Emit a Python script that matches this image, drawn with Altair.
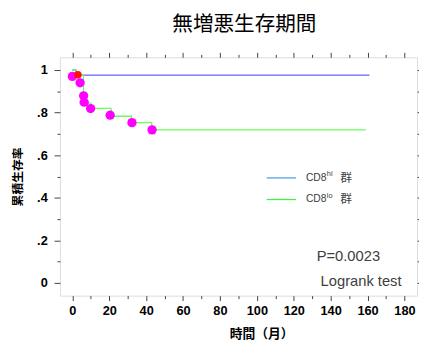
import altair as alt
import pandas as pd

# --- data ---
hi_time = [0, 2, 161]
hi_surv = [1.0, 0.976, 0.976]
lo_time = [0, 2, 6, 10, 21, 32, 43, 159]
lo_surv = [1.0, 0.976, 0.845, 0.82, 0.783, 0.753, 0.719, 0.719]
lo_cens_time = [0, 4.2, 6.1, 6.4, 9.9, 20.5, 32.3, 43.2]
lo_cens_surv = [0.97, 0.94, 0.879, 0.849, 0.819, 0.788, 0.753, 0.719]
hi_cens_time = [3]
hi_cens_surv = [0.978]
x_ticks = list(range(0, 181, 10))
y_ticks = [round(i * 0.1, 1) for i in range(11)]
groups = ["hi", "lo"]

lines_df = pd.DataFrame({
    "t": hi_time + lo_time,
    "s": hi_surv + lo_surv,
    "g": ["hi"] * len(hi_time) + ["lo"] * len(lo_time),
    "o": list(range(len(hi_time))) + list(range(len(lo_time))),
})
cens_df = pd.DataFrame({"t": lo_cens_time, "s": lo_cens_surv})
hicens_df = pd.DataFrame({"t": hi_cens_time, "s": hi_cens_surv})

xs = alt.Scale(domain=[-6.7, 186.8], nice=False, zero=False)
ys = alt.Scale(domain=[-0.06, 1.06], nice=False, zero=False)

LABEL_FONT = "Liberation Sans"
CJK = "Noto Sans CJK JP"
TICKC = "#404040"

x_major = "datum.value % 20 === 0"
y_major = "round(datum.value * 10) % 2 === 0"
y_label = ("round(datum.value * 10) % 2 === 0 ? (datum.value === 0 ? '0' : "
           "(datum.value === 1 ? '1' : '.' + round(datum.value * 10))) : ''")

x_bottom = alt.Axis(
    values=x_ticks, orient="bottom", domain=False, grid=False,
    tickSize={"condition": {"test": x_major, "value": 5}, "value": 3},
    tickColor=TICKC, labelExpr="datum.value % 20 === 0 ? datum.label : ''",
    labelFont=LABEL_FONT, labelFontWeight="bold", labelFontSize=13, labelColor="black",
    labelPadding=4, labelFlush=False, labelOverlap=False,
    title="時間（月）", titleFont=CJK, titleFontWeight="bold", titleFontSize=13,
    titleColor="black", titleX=205, titleY=39, titleBaseline="middle", titleAlign="center",
)
y_left = alt.Axis(
    values=y_ticks, orient="left", domain=False, grid=False,
    tickSize={"condition": {"test": y_major, "value": 6}, "value": 3},
    tickColor=TICKC, labelExpr=y_label,
    labelFont=LABEL_FONT, labelFontWeight="bold", labelFontSize=13, labelColor="black",
    labelPadding=7, labelFlush=False, labelOverlap=False,
    title="累積生存率", titleFont=CJK, titleFontWeight="bold", titleFontSize=12,
    titleColor="black", titleX=-43, titleY=121.5, titleAngle=270,
    titleAlign="center", titleBaseline="middle",
)
x_top = alt.Axis(
    values=x_ticks, orient="top", domain=False, grid=False, labels=False, title=None,
    tickSize={"condition": {"test": x_major, "value": 5}, "value": 3}, tickColor=TICKC,
)
y_right = alt.Axis(
    values=y_ticks, orient="right", domain=False, grid=False, labels=False, title=None,
    tickSize={"condition": {"test": y_major, "value": 6}, "value": 3}, tickColor=TICKC,
)

lines = alt.Chart(lines_df).mark_line(interpolate="step-after", strokeWidth=1.3).encode(
    x=alt.X("t:Q", scale=xs, axis=x_bottom),
    y=alt.Y("s:Q", scale=ys, axis=y_left),
    color=alt.Color("g:N", scale=alt.Scale(domain=groups, range=["#6464ff", "#66ff5a"]), legend=None),
    order="o:Q",
)

cens = alt.Chart(cens_df).mark_circle(size=90, color="#ff00ff", opacity=1).encode(
    x=alt.X("t:Q", scale=xs, axis=x_top),
    y=alt.Y("s:Q", scale=ys, axis=y_right),
)

hicens = alt.Chart(hicens_df).mark_circle(size=60, color="#ff1010", opacity=1).encode(
    x=alt.X("t:Q", scale=xs, axis=None),
    y=alt.Y("s:Q", scale=ys, axis=None),
)

one = pd.DataFrame({"a": [0]})

def rule(x1, x2, y, color):
    return alt.Chart(one).mark_rule(color=color, strokeWidth=1.3).encode(
        x=alt.value(x1), x2=alt.value(x2), y=alt.value(y))

def txt(text, x, y, size, color="#404040", font=LABEL_FONT, align="left"):
    return alt.Chart(one).mark_text(
        text=text, font=font, fontSize=size, color=color, align=align, baseline="middle"
    ).encode(x=alt.value(x), y=alt.value(y))

annot = [
    rule(210.7, 240.7, 123, "#4fa0e8"),
    rule(210.7, 240.7, 145, "#44ee44"),
    txt("CD8", 250.7, 123, 10.5),
    txt("hi", 272, 119, 7.5),
    txt("群", 285.7, 123, 12, font=CJK),
    txt("CD8", 250.7, 145, 10.5),
    txt("lo", 272, 141, 7.5),
    txt("群", 285.7, 145, 12, font=CJK),
    txt("P=0.0023", 261.7, 203, 15),
    txt("Logrank test", 265.7, 228, 15),
]

chart = alt.layer(lines, cens, hicens, *annot).resolve_axis(
    x="independent", y="independent"
).properties(
    width=364, height=243,
    title=alt.TitleParams("無増悪生存期間", font=CJK, fontSize=21, fontWeight="normal",
                          color="black", anchor="middle", dx=6, offset=17),
    autosize=alt.AutoSizeParams(type="none"),
    padding={"left": 53, "top": 47, "right": 2, "bottom": 44},
).configure_view(stroke="#404040", strokeWidth=1).configure(background="white")

chart.save("out.html", embed_options={"renderer": "svg", "actions": False})
